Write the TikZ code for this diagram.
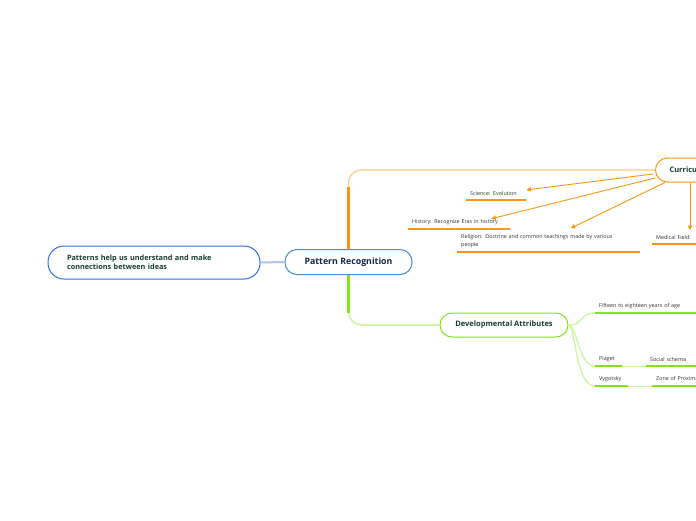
\documentclass[tikz,border=0pt]{standalone}
\usepackage{fontspec}
\setmainfont{Open Sans}
\usetikzlibrary{arrows.meta,positioning,calc}
\definecolor{ink}{RGB}{22,62,48}
\definecolor{navy}{RGB}{22,36,72}
\definecolor{ideablue}{RGB}{48,108,232}
\definecolor{hubblue}{RGB}{72,140,212}
\definecolor{linkblue}{RGB}{172,196,246}
\definecolor{cur}{RGB}{250,150,18}
\definecolor{curlight}{RGB}{255,204,130}
\definecolor{dev}{RGB}{128,230,20}
\definecolor{devlight}{RGB}{206,246,166}
\tikzset{
  idea/.style={draw=ideablue,line width=1pt,rounded corners=16pt,fill=white,
    inner xsep=0pt,font=\fontsize{7.3}{9.5}\selectfont\bfseries,text=ink,align=left},
  hub/.style={draw=hubblue,line width=1pt,rounded corners=12pt,fill=white,
    minimum width=127pt,minimum height=25pt,font=\fontsize{8.8}{10}\selectfont\bfseries,text=navy},
  topic/.style={line width=1pt,rounded corners=12pt,fill=white,minimum height=24pt,
    font=\fontsize{7.5}{9}\selectfont\bfseries,text=ink},
  leaf/.style={anchor=south west,inner xsep=4pt,inner ysep=4pt,align=left,
    font=\fontsize{5.4}{8.5}\selectfont,text=black!80},
  cline/.style={cur,line width=1.6pt},
  gline/.style={dev,line width=1.6pt},
  arr/.style={cur,line width=0.9pt,-{Triangle[length=4.5pt,width=4.5pt]}},
  gtwig/.style={devlight,line width=1pt},
}
\begin{document}
\begin{tikzpicture}[x=1pt,y=-1pt]
  \useasboundingbox (0,0) rectangle (696,520);
  \clip (0,0) rectangle (696,520);

  % main idea and hub
  \node[idea,minimum width=212pt,minimum height=33pt,text width=174pt] (idea) at (154,262.5)
    {Patterns help us understand and make\\connections between ideas};
  \node[hub] (pr) at (348.5,262) {Pattern Recognition};
  \draw[linkblue,line width=2pt] (idea.east) -- (pr.west);

  % branches
  \node[topic,draw=cur,anchor=west,inner xsep=14pt] (curr) at (655,170) {Curriculum};
  \node[topic,draw=dev,minimum width=128pt] (devattr) at (504,325) {Developmental Attributes};
  \draw[curlight,line width=1.2pt,rounded corners=13pt] (pr.north) |- (curr.west);
  \draw[cur,line width=2.2pt] (pr.north) -- ++(0,-62);
  \draw[devlight,line width=1.6pt,rounded corners=13pt] (pr.south) |- (devattr.west);
  \draw[dev,line width=2.2pt] (pr.south) -- ++(0,38);

  % curriculum leaves
  \node[leaf,text width=52pt] (sci) at (466,200) {Science: Evolution};
  \node[leaf,text width=94pt] (hist) at (408,229) {History: Recognize Eras in history};
  \node[leaf,text width=175pt] (rel) at (457,252)
    {Religion: Doctrine and common teachings made by various\\people};
  \node[leaf,text width=60pt] (med) at (652,244) {Medical Field:};
  \foreach \n in {sci,hist,rel,med}
    \draw[cline] (\n.south west) -- (\n.south east);
  \coordinate (medtip) at (690,230);
  \draw[arr] ($(curr.west)+(-2,4)$) -- ($(sci.north east)+(0,2.5)$);
  \draw[arr] ($(curr.west)+(0,8)$) -- ($(hist.north east)+(-19,3.5)$);
  \draw[arr] ($(curr.south west)+(10,0)$) -- ($(rel.north)+(22,-1.5)$);
  \draw[arr] (curr.south -| medtip) -- (medtip);

  % developmental leaves
  \node[leaf,text width=93pt] (fif) at (595,313) {Fifteen to eighteen years of age};
  \node[leaf,text width=19pt] (piag) at (595,366) {Piaget};
  \node[leaf,text width=50pt] (soc) at (646,366) {Social schema};
  \node[leaf,text width=25pt] (vyg) at (595,386) {Vygotsky};
  \node[leaf,text width=90pt] (zone) at (652,386) {Zone of Proximal Development};
  \foreach \n in {fif,piag,soc,vyg,zone}
    \draw[gline] (\n.south west) -- (\n.south east);
  \draw[gtwig] (piag.south east) -- (soc.south west);
  \draw[gtwig] (vyg.south east) -- (zone.south west);
  \draw[gtwig,line width=1.4pt] (devattr.east) .. controls (582,326) and (580,313) .. (fif.south west);
  \draw[gtwig,line width=1.4pt] (devattr.east) .. controls (578,326) and (578,366) .. (piag.south west);
  \draw[gtwig,line width=1.4pt] (devattr.east) .. controls (576,326) and (575,386) .. (vyg.south west);
\end{tikzpicture}
\end{document}
